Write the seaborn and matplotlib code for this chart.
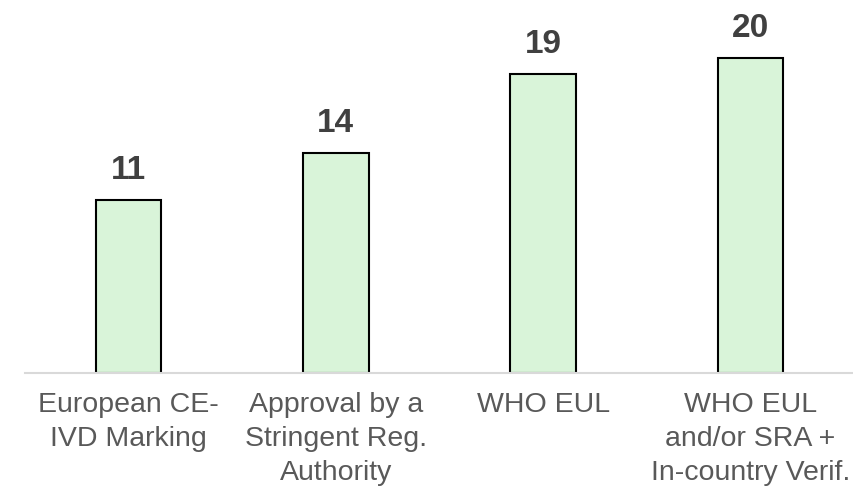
import pandas as pd
import seaborn as sns
import matplotlib.pyplot as plt

# Chart data
categories = ["European CE-\nIVD Marking", "Approval by a\nStringent Reg.\nAuthority",
              "WHO EUL", "WHO EUL\nand/or SRA +\nIn-country Verif."]
counts = [11, 14, 19, 20]

df = pd.DataFrame({"category": categories, "count": counts})

sns.set_style("white")
plt.rcParams["font.family"] = ["Liberation Sans", "DejaVu Sans"]

fig = plt.figure(figsize=(8.54, 4.88), dpi=100)
ax = fig.add_axes([25 / 854, 115 / 488, 829 / 854, 373 / 488])

sns.barplot(data=df, x="category", y="count", color="#d9f4d9",
            edgecolor="black", linewidth=1.5, width=0.315, saturation=1, ax=ax)

# value labels above bars
for i, v in enumerate(counts):
    ax.annotate(str(v), (i, v), xytext=(0, 10), textcoords="offset points",
                ha="center", va="bottom", fontsize=24, fontweight="bold", color="#404040")

ax.set_xlim(-0.5, 3.5)
ax.set_ylim(0, 23.7)
ax.set_xlabel("")
ax.set_ylabel("")
ax.set_yticks([])
for s in ["top", "right", "left"]:
    ax.spines[s].set_visible(False)
ax.spines["bottom"].set_color("#d9d9d9")
ax.spines["bottom"].set_linewidth(1.5)
ax.tick_params(axis="x", length=0, pad=14, labelsize=20.5, labelcolor="#595959")
for lbl in ax.get_xticklabels():
    lbl.set_linespacing(1.38)

fig.savefig("out.png", dpi=100)
